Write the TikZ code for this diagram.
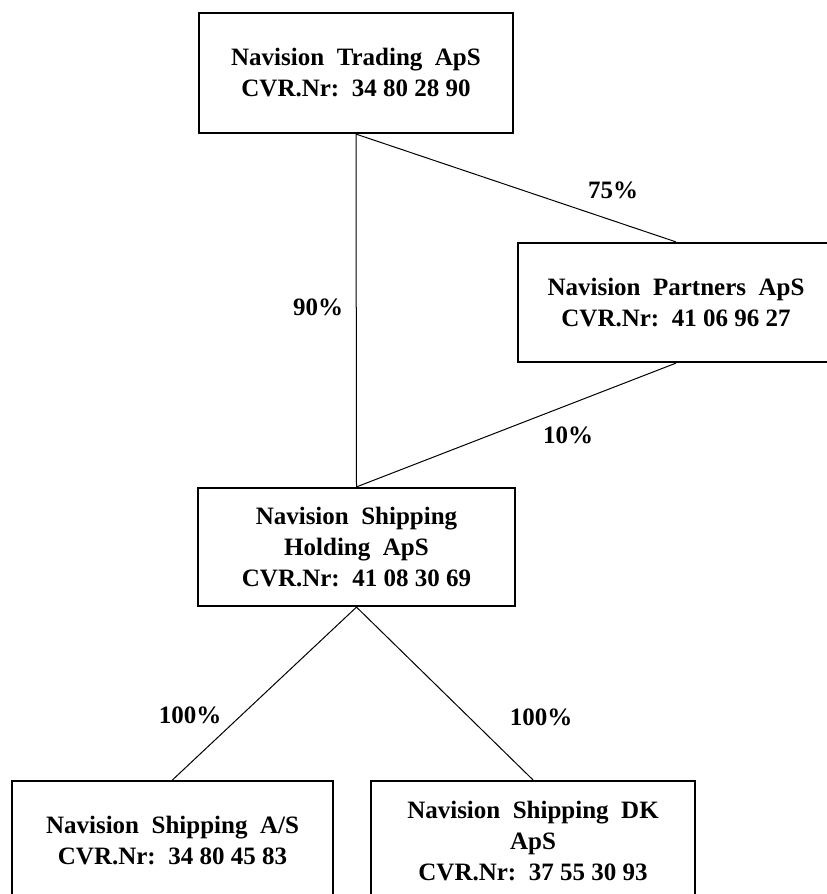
\documentclass[tikz,border=0pt]{standalone}
\usepackage{fontspec}
\setmainfont{Liberation Serif}
\begin{document}
\begin{tikzpicture}[x=1pt,y=-1pt,
  entity/.style={draw,line width=2.2pt,rectangle,align=center,inner sep=0pt,
    font=\bfseries\fontsize{25}{31}\selectfont},
  link/.style={line width=1pt},
  pct/.style={font=\bfseries\fontsize{25}{31}\selectfont,inner sep=0pt}]
\useasboundingbox (0,0) rectangle (827,894);
\clip (0,0) rectangle (827,894);
\node[entity,minimum width=314pt,minimum height=120pt] (top) at (356,73)
  {Navision\ \ Trading\ \ ApS\\CVR.Nr:\ \ 34 80 28 90};
\node[entity,minimum width=316pt,minimum height=119pt] (partners) at (676,302.5)
  {Navision\ \ Partners\ \ ApS\\CVR.Nr:\ \ 41 06 96 27};
\node[entity,minimum width=317pt,minimum height=118pt] (hold) at (356.5,547)
  {Navision\ \ Shipping\\Holding\ \ ApS\\CVR.Nr:\ \ 41 08 30 69};
\node[entity,minimum width=321pt,minimum height=120pt] (as) at (172.5,841)
  {Navision\ \ Shipping\ \ A/S\\CVR.Nr:\ \ 34 80 45 83};
\node[entity,minimum width=324pt,minimum height=120pt] (dk) at (533,841)
  {Navision\ \ Shipping\ \ DK\\ApS\\CVR.Nr:\ \ 37 55 30 93};
\draw[link] (top.south) -- (hold.north);
\draw[link] (top.south) -- (partners.north);
\draw[link] (partners.south) -- (hold.north);
\draw[link] (hold.south) -- (as.north);
\draw[link] (hold.south) -- (dk.north);
\node[pct] (p75) at (613,190) {75\%};
\node[pct] (p90) at (318,307) {90\%};
\node[pct] (p10) at (568,435) {10\%};
\node[pct] (p100a) at (190,715) {100\%};
\node[pct] (p100b) at (541,717) {100\%};
\end{tikzpicture}
\end{document}
